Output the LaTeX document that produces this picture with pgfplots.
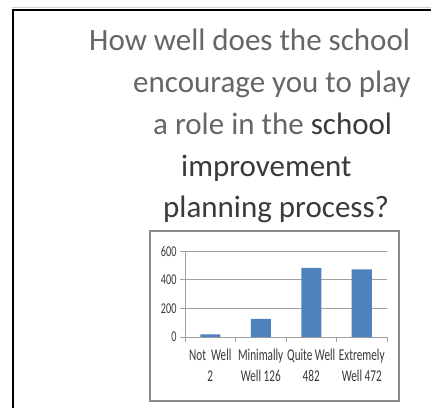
\documentclass[border=0pt]{standalone}
\usepackage{pgfplots}
\pgfplotsset{compat=1.18}
\usepackage{fontspec}
\setmainfont{Carlito}
\newfontfamily\narrowfont[FakeStretch=0.68]{Carlito}
\definecolor{barblue}{HTML}{4F81BD}
\definecolor{lighttxt}{HTML}{666666}
\definecolor{darktxt}{HTML}{3A3A3A}
\definecolor{gridgray}{HTML}{A0A0A0}
\definecolor{boxgray}{HTML}{8A8A8A}
\begin{document}
\begin{tikzpicture}[x=1bp,y=1bp]
\useasboundingbox (0,0) rectangle (431,408);
\fill[white] (0,0) rectangle (431,408);
\draw[gray!35, line width=1bp] (12,400.5) -- (431,400.5);
\draw[black, line width=2bp] (13,0) -- (13,398) -- (431,398);
\begin{scope}[every node/.style={anchor=base west, inner sep=0pt, font=\fontsize{31bp}{40bp}\selectfont}]
\node[text=lighttxt] at (89,358) {How well does the school};
\node[text=lighttxt] at (133,316) {encourage you to play};
\node at (153,274) {\textcolor{lighttxt}{a role in the }\textcolor{darktxt}{school}};
\node[text=darktxt] at (181,232) {improvement};
\node[text=darktxt] at (163,191) {planning process?};
\end{scope}
\draw[boxgray, line width=1.2bp] (150,7) rectangle (399,177);
\begin{axis}[
  at={(185bp,71bp)}, anchor=south west,
  scale only axis, width=202bp, height=86bp,
  xmin=-0.5, xmax=3.5, ymin=0, ymax=600,
  axis x line*=bottom, axis y line*=left,
  axis line style={gridgray, line width=0.9bp},
  tick style={gridgray, line width=0.9bp},
  tick align=outside, major tick length=5bp,
  ymajorgrids, grid style={gridgray, line width=0.9bp},
  ytick={0,200,400,600}, yticklabels={0,200,400,600},
  xtick={-0.5,0.5,1.5,2.5,3.5},
  x tick label as interval,
  xticklabels={{Not\ \ Well\\2},{Minimally\\Well 126},{Quite Well\\482},{Extremely\\Well 472}},
  xticklabel style={font=\narrowfont\fontsize{16.5bp}{21bp}\selectfont, align=center, text=darktxt, yshift=-4bp},
  yticklabel style={font=\narrowfont\fontsize{15bp}{16bp}\selectfont, text=darktxt},
  clip=false,
]
\addplot[ybar, bar width=20bp, fill=barblue, draw=none] coordinates {(0,18) (1,126) (2,482) (3,472)};
\end{axis}
\end{tikzpicture}
\end{document}
